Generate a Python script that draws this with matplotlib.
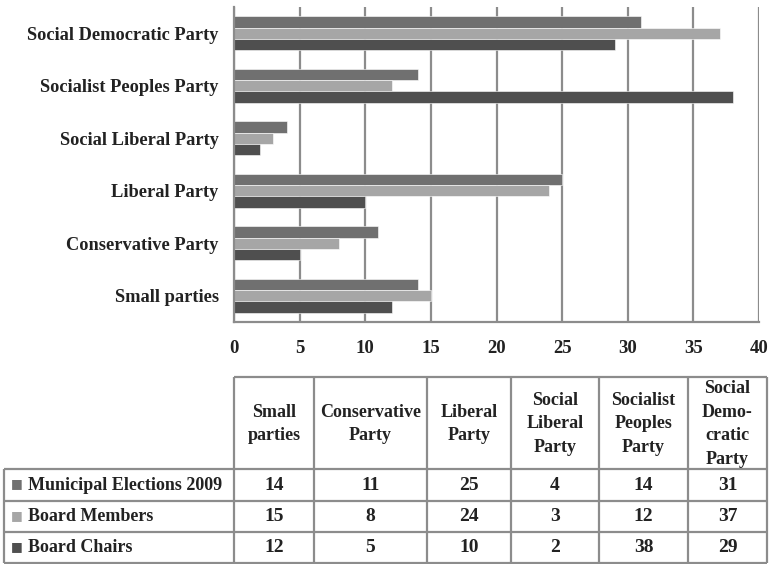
import matplotlib
matplotlib.use("Agg")
import matplotlib.pyplot as plt
import numpy as np

categories = ["Small parties", "Conservative Party", "Liberal Party",
              "Social Liberal Party", "Socialist Peoples Party", "Social Democratic Party"]
header_labels = ["Small\nparties", "Conservative\nParty", "Liberal\nParty",
                 "Social\nLiberal\nParty", "Socialist\nPeoples\nParty", "Social\nDemo-\ncratic\nParty"]
series_names = ["Municipal Elections 2009", "Board Members", "Board Chairs"]
municipal = [14, 11, 25, 4, 14, 31]
board_members = [15, 8, 24, 3, 12, 37]
board_chairs = [12, 5, 10, 2, 38, 29]
x_ticks = [0, 5, 10, 15, 20, 25, 30, 35, 40]

colors = ["#707070", "#a6a6a6", "#4f4f4f"]
grid_c = "#8c8c8c"
txt_c = "#222222"
FONT = "Liberation Serif"
W, H = 769, 564

plt.rcParams["font.family"] = [FONT, "DejaVu Serif"]
fig = plt.figure(figsize=(W / 100, H / 100), dpi=100)

ax = fig.add_axes([234 / W, 1 - 322 / H, (759 - 234) / W, (322 - 7) / H])
y = np.arange(len(categories))
h = 0.215
series = [municipal, board_members, board_chairs]
offsets = [h, 0, -h]
for vals, c, off in zip(series, colors, offsets):
    ax.barh(y + off, vals, height=h, color=c, edgecolor="white", linewidth=0.4, zorder=3)

ax.set_xlim(0, 40)
ax.set_ylim(-0.5, len(categories) - 0.5)
ax.set_xticks(x_ticks)
ax.set_xticklabels([str(t) for t in x_ticks], fontsize=13.5, fontweight="bold", color=txt_c)
ax.set_yticks(y)
ax.set_yticklabels(categories, fontsize=13.2, fontweight="bold", color=txt_c)
ax.tick_params(axis="both", length=0)
ax.tick_params(axis="x", pad=13)
ax.tick_params(axis="y", pad=11)
ax.grid(axis="x", color=grid_c, linewidth=1.6, zorder=0)
for s in ["top", "right"]:
    ax.spines[s].set_visible(False)
for s in ["left", "bottom"]:
    ax.spines[s].set_color(grid_c)
    ax.spines[s].set_linewidth(1.6)
    ax.spines[s].set_zorder(4)

# Data table (pixel layout axes)
tax = fig.add_axes([0, 0, 1, 1])
tax.set_xlim(0, W)
tax.set_ylim(H, 0)
tax.axis("off")

t_left = 4
label_w = 230
col_w = [80, 113, 84, 88, 89, 79]
t_top = 377
header_h = 92
row_h = [32, 31, 31]

xb = [t_left, t_left + label_w]
for w in col_w:
    xb.append(xb[-1] + w)
yb = [t_top, t_top + header_h]
for rh in row_h:
    yb.append(yb[-1] + rh)

lw = 1.6
tax.hlines(yb[0], xb[1], xb[-1], color=grid_c, lw=lw)
for yy in yb[1:]:
    tax.hlines(yy, xb[0], xb[-1], color=grid_c, lw=lw)
tax.vlines(xb[0], yb[1], yb[-1], color=grid_c, lw=lw)
for xx in xb[1:]:
    tax.vlines(xx, yb[0], yb[-1], color=grid_c, lw=lw)

fs = 13
for j, lab in enumerate(header_labels):
    tax.text((xb[j + 1] + xb[j + 2]) / 2, (yb[0] + yb[1]) / 2 + 1, lab, ha="center", va="center",
             fontsize=fs, fontweight="bold", color=txt_c, linespacing=1.5)

for i, (name, vals, c) in enumerate(zip(series_names, series, colors)):
    cy = (yb[i + 1] + yb[i + 2]) / 2
    tax.text(xb[0] + 24, cy, name, ha="left", va="center", fontsize=fs,
             fontweight="bold", color=txt_c)
    tax.text(xb[0] + 13, cy - 1, "■", ha="center", va="center", fontsize=9,
             color=c, family="DejaVu Sans")
    for j, v in enumerate(vals):
        tax.text((xb[j + 1] + xb[j + 2]) / 2, cy, str(v), ha="center", va="center",
                 fontsize=14, fontweight="bold", color=txt_c)

fig.savefig("out.png", dpi=100)
